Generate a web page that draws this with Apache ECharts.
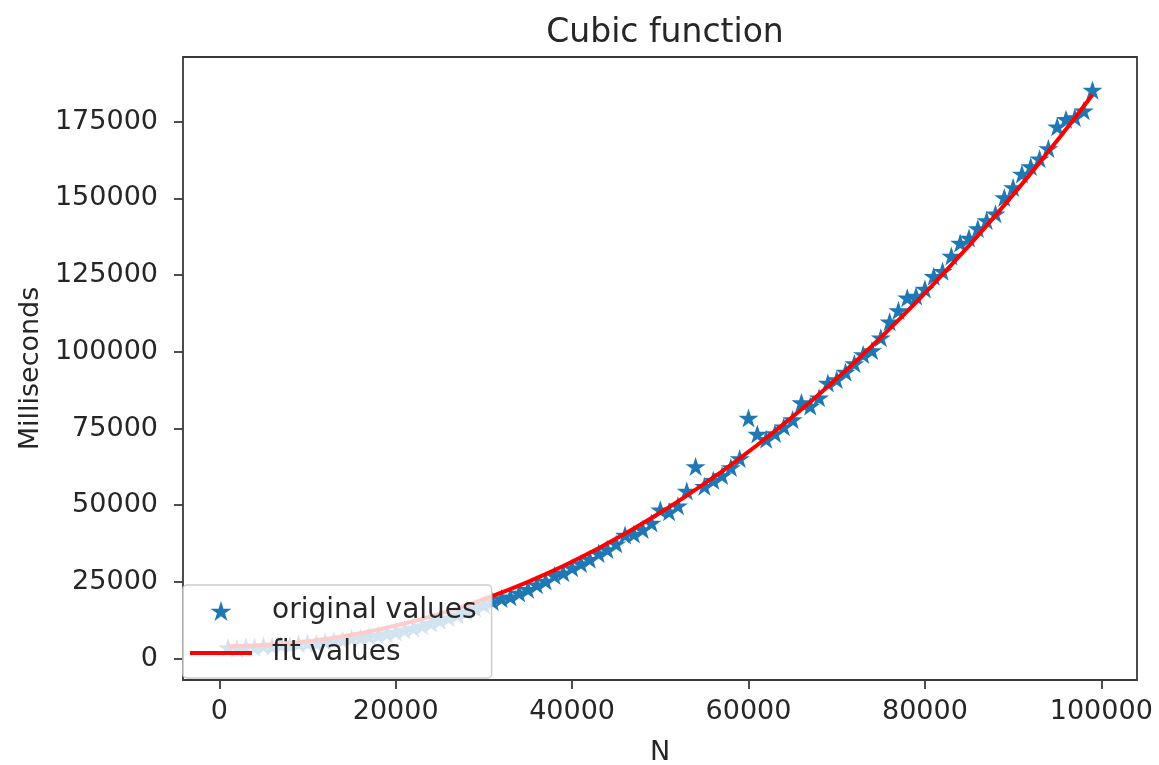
<!DOCTYPE html>
<html><head><meta charset="utf-8">
<script src="https://cdn.jsdelivr.net/npm/echarts@6/dist/echarts.min.js"></script>
<style>html,body{margin:0;padding:0;background:#fff}#c{width:1159px;height:765px}</style>
</head><body><div id="c"></div>
<script>
// Data (N values and measured milliseconds)
const N = [1000,2000,3000,4000,5000,6000,7000,8000,9000,10000,
  11000,12000,13000,14000,15000,16000,17000,18000,19000,20000,
  21000,22000,23000,24000,25000,26000,27000,28000,29000,30000,
  31000,32000,33000,34000,35000,36000,37000,38000,39000,40000,
  41000,42000,43000,44000,45000,46000,47000,48000,49000,50000,
  51000,52000,53000,54000,55000,56000,57000,58000,59000,60000,
  61000,62000,63000,64000,65000,66000,67000,68000,69000,70000,
  71000,72000,73000,74000,75000,76000,77000,78000,79000,80000,
  81000,82000,83000,84000,85000,86000,87000,88000,89000,90000,
  91000,92000,93000,94000,95000,96000,97000,98000,99000];
const ms = [3600,3400,3900,3700,4200,4000,4500,4300,4900,5100,
  5000,5600,5900,6100,6600,6800,7300,7600,8200,8700,
  9300,10000,10700,11500,12400,13300,14300,15300,16400,17500,
  18600,19600,20200,21400,22600,24100,25300,27100,28000,29600,
  31000,32400,34300,35600,37400,40300,40600,42100,44200,48500,
  47900,49800,54600,62600,56200,58100,59700,62300,65200,78400,
  73200,71500,73400,75600,77900,83500,82300,85000,89800,91000,
  93400,96200,99100,100400,104600,109800,113500,117600,118200,120500,
  124600,126300,131200,135500,137100,140200,142800,145000,150300,153600,
  158000,160400,162900,166300,173400,175800,176400,178600,185300];
// Fitted cubic curve values
const fitN = [1000,3000,5000,7000,9000,11000,13000,15000,17000,19000,
  21000,23000,25000,27000,29000,31000,33000,35000,37000,39000,
  41000,43000,45000,47000,49000,51000,53000,55000,57000,59000,
  61000,63000,65000,67000,69000,71000,73000,75000,77000,79000,
  81000,83000,85000,87000,89000,91000,93000,95000,97000,99000];
const fitMs = [4020,4150,4420,4810,5350,6020,6830,7780,8860,10080,
  11450,12950,14600,16400,18330,20410,22640,25010,27530,30200,
  33020,35990,39110,42380,45810,49390,53120,57010,61060,65260,
  69620,74140,78820,83660,88670,93840,99170,104660,110320,116150,
  122150,128310,134630,141140,147810,154660,161670,168860,176230,183770];
const xTicks = [0,20000,40000,60000,80000,100000];
const yTicks = [0,25000,50000,75000,100000,125000,150000,175000];

const FONT = 'DejaVu Sans';
const TXT = '#262626';
const SPINE = '#3a3a3a';
const STAR = 'path://M50,0 L61.23,34.55 L97.55,34.55 L68.17,55.9 L79.39,90.45 L50,69.1 L20.61,90.45 L31.83,55.9 L2.45,34.55 L38.77,34.55 Z';
const LINE_ICON = 'path://M0,0 L62,0 L62,4 L0,4 Z';

const chart = echarts.init(document.getElementById('c'), null, {renderer: 'canvas'});
chart.setOption({
  backgroundColor: '#ffffff',
  animation: false,
  title: {
    text: 'Cubic function',
    left: 660, textAlign: 'center', top: 12,
    textStyle: {fontFamily: FONT, fontSize: 33, fontWeight: 'normal', color: TXT}
  },
  grid: {
    left: 183, right: 22, top: 57, bottom: 85,
    show: true, borderColor: SPINE, borderWidth: 1.8, backgroundColor: 'transparent',
    outerBoundsMode: 'none'
  },
  legend: {
    orient: 'vertical',
    left: 183, top: 585,
    padding: [11, 15, 10, 7],
    itemWidth: 62, itemHeight: 20, itemGap: 12,
    symbolKeepAspect: true,
    backgroundColor: 'rgba(255,255,255,0.8)',
    borderColor: '#cccccc', borderWidth: 1.5, borderRadius: 4,
    textStyle: {fontFamily: FONT, fontSize: 28, color: TXT, lineHeight: 30, padding: [0, 0, 0, 15]},
    data: [
      {name: 'original values'},
      {name: 'fit values', icon: LINE_ICON, itemStyle: {color: '#ff0000'}}
    ]
  },
  xAxis: {
    type: 'value', min: -4116, max: 104048,
    name: 'N', nameLocation: 'middle', nameGap: 59,
    nameTextStyle: {fontFamily: FONT, fontSize: 27, color: TXT},
    splitLine: {show: false},
    axisLine: {show: false, onZero: false},
    axisTick: {show: true, inside: false, length: 9, customValues: xTicks, lineStyle: {color: SPINE, width: 1.8}},
    axisLabel: {customValues: xTicks, margin: 18, fontFamily: FONT, fontSize: 27, color: TXT,
      formatter: v => String(v)}
  },
  yAxis: {
    type: 'value', min: -6975, max: 196095,
    name: 'Milliseconds', nameLocation: 'middle', nameGap: 134,
    nameTextStyle: {fontFamily: FONT, fontSize: 27, color: TXT},
    splitLine: {show: false},
    axisLine: {show: false, onZero: false},
    axisTick: {show: true, inside: false, length: 9, customValues: yTicks, lineStyle: {color: SPINE, width: 1.8}},
    axisLabel: {customValues: yTicks, margin: 25, fontFamily: FONT, fontSize: 27, color: TXT,
      formatter: v => String(v)}
  },
  series: [
    {
      name: 'original values', type: 'scatter',
      symbol: STAR, symbolSize: 20, symbolKeepAspect: true,
      itemStyle: {color: '#1f77b4', opacity: 1},
      data: N.map((x, i) => [x, ms[i]]), z: 2
    },
    {
      name: 'fit values', type: 'line',
      symbol: 'none', showSymbol: false,
      lineStyle: {color: '#ff0000', width: 4},
      itemStyle: {color: '#ff0000'},
      data: fitN.map((x, i) => [x, fitMs[i]]), z: 3
    }
  ]
});
</script>
</body></html>
